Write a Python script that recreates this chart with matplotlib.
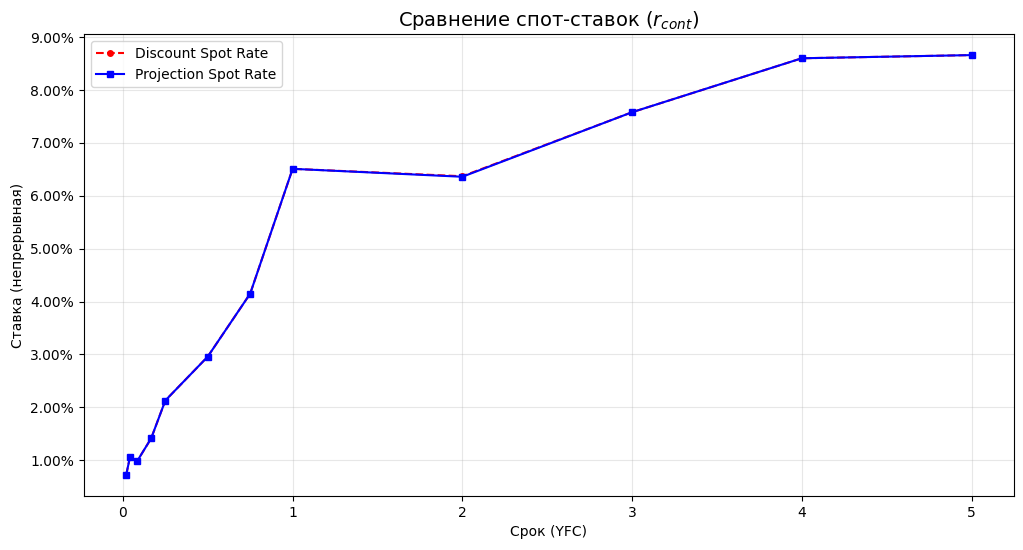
import matplotlib
matplotlib.use("Agg")
import matplotlib.pyplot as plt
from matplotlib.ticker import FuncFormatter

# tenors in years (YFC)
tenors = [1 / 52, 1 / 24, 1 / 12, 2 / 12, 0.25, 0.5, 0.75, 1, 2, 3, 4, 5]
# continuous spot rates
discount_rates = [0.0072, 0.0106, 0.0098, 0.01415, 0.0213, 0.0296, 0.0415,
                  0.0651, 0.0637, 0.0758, 0.0860, 0.0866]
projection_rates = [0.0072, 0.0106, 0.0098, 0.01415, 0.0213, 0.0296, 0.0415,
                    0.0651, 0.0636, 0.0758, 0.0860, 0.0866]

fig, ax = plt.subplots(figsize=(10.23, 5.5), dpi=100)
fig.subplots_adjust(left=0.082, right=0.991, top=0.938, bottom=0.098)

ax.plot(tenors, discount_rates, "r--o", markersize=4, label="Discount Spot Rate")
ax.plot(tenors, projection_rates, "b-s", markersize=5, label="Projection Spot Rate")

ax.yaxis.set_major_formatter(FuncFormatter(lambda v, _: f"{v * 100:.2f}%"))
ax.set_title("Сравнение спот-ставок ($r_{cont}$)", fontsize=14)
ax.set_xlabel("Срок (YFC)")
ax.set_ylabel("Ставка (непрерывная)")
ax.grid(True, alpha=0.3)
ax.legend(loc="upper left")

fig.savefig("out.png", dpi=100)
